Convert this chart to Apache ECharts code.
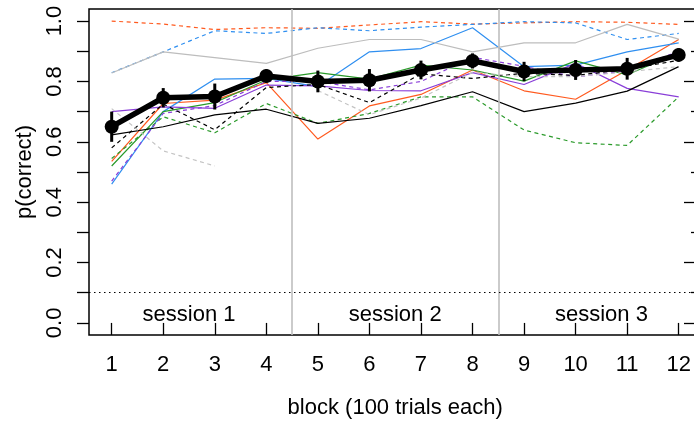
<!DOCTYPE html>
<html><head><meta charset="utf-8">
<script src="https://cdn.jsdelivr.net/npm/echarts@6/dist/echarts.min.js"></script>
<style>html,body{margin:0;padding:0;background:#fff}#c{width:694px;height:422px}</style>
</head><body><div id="c"></div>
<script>
// ---- data ----
const blocks = [1,2,3,4,5,6,7,8,9,10,11,12];
const meanVals = [0.650, 0.746, 0.750, 0.818, 0.800, 0.804, 0.838, 0.868, 0.833, 0.838, 0.842, 0.888];
const meanSE   = [0.050, 0.032, 0.043, 0.022, 0.036, 0.037, 0.031, 0.025, 0.032, 0.033, 0.036, 0.022];
const orangeSolid  = [0.535, 0.727, 0.738, 0.796, 0.609, 0.719, 0.757, 0.838, 0.769, 0.741, 0.838, 0.939];
const orangeDashed = [1.000, 0.990, 0.972, 0.978, 0.976, 0.987, 0.998, 0.990, 0.994, 0.998, 0.996, 0.989];
const blueSolid    = [0.460, 0.700, 0.808, 0.810, 0.783, 0.898, 0.909, 0.978, 0.849, 0.854, 0.898, 0.928];
const blueDashed   = [0.829, 0.898, 0.968, 0.959, 0.978, 0.968, 0.980, 0.989, 0.998, 0.994, 0.939, 0.959];
const greenSolid   = [0.520, 0.700, 0.730, 0.805, 0.829, 0.808, 0.854, 0.838, 0.801, 0.868, 0.822, 0.895];
const greenDashed  = [0.545, 0.683, 0.630, 0.727, 0.661, 0.694, 0.749, 0.749, 0.639, 0.597, 0.588, 0.749];
const purpleSolid  = [0.700, 0.716, 0.711, 0.788, 0.785, 0.770, 0.769, 0.829, 0.790, 0.860, 0.777, 0.749];
const purpleDashed = [0.470, 0.694, 0.720, 0.800, 0.800, 0.772, 0.800, 0.880, 0.850, 0.815, 0.835, 0.900];
const blackSolid   = [0.623, 0.650, 0.689, 0.708, 0.661, 0.678, 0.720, 0.766, 0.700, 0.728, 0.768, 0.849];
const blackDashed  = [0.580, 0.725, 0.640, 0.780, 0.790, 0.730, 0.825, 0.810, 0.827, 0.820, 0.840, 0.870];
const graySolid    = [0.828, 0.898, 0.879, 0.860, 0.910, 0.939, 0.939, 0.898, 0.928, 0.928, 0.989, 0.940];
const grayDashed   = [0.710, 0.570, 0.520, null, 0.770, 0.690, 0.745, 0.830, 0.816, 0.816, 0.832, 0.849];
const yTickValues  = [0,0.1,0.2,0.3,0.4,0.5,0.6,0.7,0.8,0.9,1.0];
const yLabelValues = [0,0.2,0.4,0.6,0.8,1.0];
const sessionBreaks = [4.5, 8.5];
const sessionLabels = ['session 1','session 2','session 3'];
const sessionCenters = [2.5, 6.5, 10.5];
const chanceLevel = 0.1;

const FONT = 'Liberation Sans, Arial, sans-serif';
const subjects = [
  {d: orangeSolid,  c:'#FF5A1F', dash:false},
  {d: orangeDashed, c:'#FF5A1F', dash:true},
  {d: blueSolid,    c:'#2F8FF0', dash:false},
  {d: blueDashed,   c:'#2F8FF0', dash:true},
  {d: greenSolid,   c:'#2A9A2A', dash:false},
  {d: greenDashed,  c:'#2A9A2A', dash:true},
  {d: purpleSolid,  c:'#8A3FD8', dash:false},
  {d: purpleDashed, c:'#8A3FD8', dash:true},
  {d: blackSolid,   c:'#000000', dash:false},
  {d: blackDashed,  c:'#000000', dash:true},
  {d: graySolid,    c:'#BDBDBD', dash:false},
  {d: grayDashed,   c:'#C4C4C4', dash:true}
];

const series = [];
series.push({
  type:'line', data:[], silent:true, z:1,
  markLine:{symbol:'none', silent:true, label:{show:false},
    lineStyle:{color:'#BEBEBE', width:1.6, type:'solid'},
    data: sessionBreaks.map(v=>({xAxis:v}))}
});
series.push({
  type:'line', data:[], silent:true, z:1,
  markLine:{symbol:'none', silent:true, label:{show:false},
    lineStyle:{color:'#000', width:1.2, type:[1.5,3.5]},
    data:[{yAxis:chanceLevel}]}
});
subjects.forEach(s=>{
  series.push({
    type:'line', symbol:'none', z:2, connectNulls:false,
    data: blocks.map((b,i)=>[b, s.d[i]==null?'-':s.d[i]]),
    lineStyle:{color:s.c, width:1.2, type: s.dash?[4,3.5]:'solid'}
  });
});
series.push({
  type:'custom', z:5,
  data: blocks.map((b,i)=>[b, meanVals[i]-meanSE[i], meanVals[i]+meanSE[i]]),
  renderItem:(params, api)=>{
    const p1 = api.coord([api.value(0), api.value(1)]);
    const p2 = api.coord([api.value(0), api.value(2)]);
    return {type:'line', shape:{x1:p1[0],y1:p1[1],x2:p2[0],y2:p2[1]}, style:{stroke:'#000', lineWidth:3}};
  }
});
series.push({
  type:'line', z:6, symbol:'circle', symbolSize:14,
  data: blocks.map((b,i)=>[b, meanVals[i]]),
  lineStyle:{color:'#000', width:5.5}, itemStyle:{color:'#000'}
});
series.push({
  type:'scatter', z:3, symbolSize:0, itemStyle:{opacity:1},
  data: sessionCenters.map((x,i)=>({value:[x, 0.027], name:sessionLabels[i]})),
  label:{show:true, position:'inside', formatter:p=>p.name, color:'#000', opacity:1, fontSize:22, fontFamily:FONT}
});

const yBase = {type:'value', min:-0.04, max:1.04, splitLine:{show:false}};
const option = {
  animation:false,
  grid:{left:89, top:9, width:612.4, height:326, outerBoundsMode:'none', containLabel:false,
    show:true, borderColor:'#000', borderWidth:1.5, backgroundColor:'transparent'},
  xAxis:{type:'value', min:0.56, max:12.44, splitLine:{show:false},
    axisLine:{show:false},
    axisTick:{show:true, customValues:blocks, length:12, lineStyle:{color:'#000', width:1.3}},
    axisLabel:{customValues:blocks, formatter:v=>String(v), color:'#000', fontSize:22, fontFamily:FONT, margin:19},
    name:'block (100 trials each)', nameLocation:'middle', nameGap:62,
    nameTextStyle:{color:'#000', fontSize:22, fontFamily:FONT}},
  yAxis:[
    Object.assign({}, yBase, {position:'left',
      axisLine:{show:false},
      axisTick:{show:true, customValues:yTickValues, length:12, lineStyle:{color:'#000', width:1.3}},
      axisLabel:{customValues:yLabelValues, rotate:90, formatter:v=>v.toFixed(1), color:'#000', fontSize:22, fontFamily:FONT, margin:23},
      name:'p(correct)', nameLocation:'middle', nameGap:52, nameRotate:90,
      nameTextStyle:{color:'#000', fontSize:22, fontFamily:FONT}}),
    Object.assign({}, yBase, {position:'right', offset:-17.4,
      axisLine:{show:false},
      axisTick:{show:true, customValues:yLabelValues, length:10, lineStyle:{color:'#000', width:1.3}},
      axisLabel:{show:false}}),
    Object.assign({}, yBase, {position:'right', offset:-10.4,
      axisLine:{show:false},
      axisTick:{show:true, customValues:[0.1,0.3,0.5,0.7,0.9], length:3, lineStyle:{color:'#000', width:1.3}},
      axisLabel:{show:false}})
  ],
  series: series
};
const chart = echarts.init(document.getElementById('c'), null, {renderer:'canvas'});
chart.setOption(option);
</script>
</body></html>
